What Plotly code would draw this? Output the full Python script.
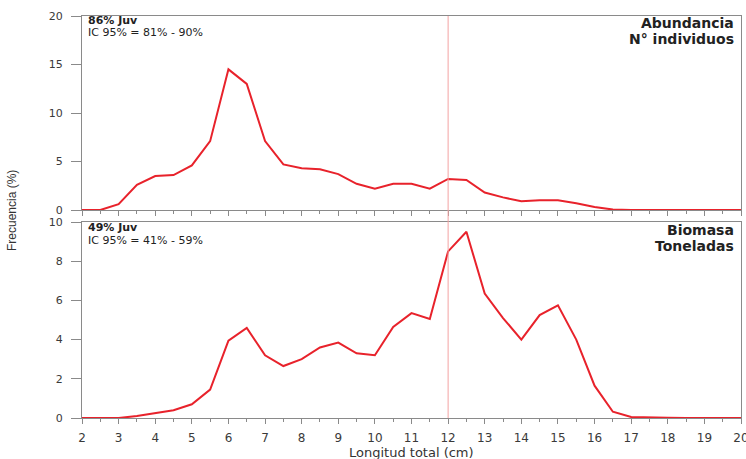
import plotly.graph_objects as go

longitud = [2, 2.5, 3, 3.5, 4, 4.5, 5, 5.5, 6, 6.5, 7, 7.5, 8, 8.5, 9, 9.5, 10, 10.5,
            11, 11.5, 12, 12.5, 13, 13.5, 14, 14.5, 15, 15.5, 16, 16.5, 17, 17.5, 18,
            18.5, 19, 19.5, 20]
abundancia = [0, 0, 0.6, 2.6, 3.5, 3.6, 4.6, 7.1, 14.5, 13.0, 7.1, 4.7, 4.3, 4.2, 3.7,
              2.7, 2.2, 2.7, 2.7, 2.2, 3.2, 3.1, 1.8, 1.3, 0.9, 1.0, 1.0, 0.7, 0.3, 0.05,
              0, 0, 0, 0, 0, 0, 0]
biomasa = [0, 0, 0, 0.1, 0.25, 0.4, 0.7, 1.45, 3.95, 4.6, 3.2, 2.65, 3.0, 3.6, 3.85,
           3.3, 3.2, 4.65, 5.35, 5.05, 8.5, 9.5, 6.35, 5.1, 4.0, 5.25, 5.75, 4.0, 1.65,
           0.32, 0.05, 0.02, 0.01, 0, 0, 0, 0]
x_ticks = list(range(2, 21))
y_ticks_top = [0, 5, 10, 15, 20]
y_ticks_bot = [0, 2, 4, 6, 8, 10]
talla_ref = 12

W, H = 746, 459
FONT = "DejaVu Sans"
RED = "#e8222b"
AX = "#8a8a8a"
TXT = "#3a3a3a"

fig = go.Figure()
fig.add_trace(go.Scatter(x=longitud, y=abundancia, mode="lines",
                         line=dict(color=RED, width=2), xaxis="x", yaxis="y",
                         showlegend=False))
fig.add_trace(go.Scatter(x=longitud, y=biomasa, mode="lines",
                         line=dict(color=RED, width=2), xaxis="x2", yaxis="y2",
                         showlegend=False))

xd = [82 / W, 741 / W]
ytop = [1 - 210 / H, 1 - 16 / H]
ybot = [1 - 418 / H, 1 - 222 / H]

common_x = dict(range=[2, 20], tickvals=x_ticks, showline=True, linecolor=AX,
                linewidth=1, mirror=True, ticks="outside", ticklen=5, tickcolor=AX,
                showgrid=False, zeroline=False, domain=xd, automargin=False,
                ticklabelstandoff=4, ticklabeloverflow="allow",
                minor=dict(dtick=0.5, ticks="outside", ticklen=3, tickcolor=AX,
                           showgrid=False),
                tickfont=dict(family=FONT, size=12, color=TXT))
common_y = dict(showline=True, linecolor=AX, linewidth=1, mirror=True,
                ticks="outside", ticklen=10, tickcolor=AX, showgrid=False,
                zeroline=False, automargin=False, ticklabelstandoff=6,
                tickfont=dict(family=FONT, size=11, color=TXT))

fig.update_layout(
    width=W, height=H, margin=dict(l=0, r=0, t=0, b=0, autoexpand=False),
    paper_bgcolor="white", plot_bgcolor="white",
    xaxis=dict(**common_x, anchor="y", showticklabels=False),
    yaxis=dict(**common_y, range=[0, 20], tickvals=y_ticks_top, domain=ytop, anchor="x"),
    xaxis2=dict(**common_x, anchor="y2", showticklabels=True),
    yaxis2=dict(**common_y, range=[0, 10], tickvals=y_ticks_bot, domain=ybot, anchor="x2"),
)

fig.add_shape(type="line", xref="x", yref="paper", x0=talla_ref, x1=talla_ref,
              y0=ybot[0], y1=ytop[1], line=dict(color="#f3a3a3", width=1))

def ann(text, x, y, size, bold=False, anchor="left", family=FONT, color="#222222", **kw):
    fig.add_annotation(text=f"<b>{text}</b>" if bold else text, x=x / W, y=1 - y / H,
                       xref="paper", yref="paper", showarrow=False,
                       xanchor=anchor, yanchor="middle",
                       font=dict(family=family, size=size, color=color), **kw)

ann("86% Juv", 86, 20.5, 11, bold=True)
ann("IC 95% = 81% - 90%", 86, 33, 11)
ann("Abundancia", 736, 23, 14, bold=True, anchor="right")
ann("N° individuos", 736, 39, 14, bold=True, anchor="right")
ann("49% Juv", 86, 227.5, 11, bold=True)
ann("IC 95% = 41% - 59%", 86, 240, 11)
ann("Biomasa", 736, 230, 14, bold=True, anchor="right")
ann("Toneladas", 736, 246, 14, bold=True, anchor="right")
ann("Longitud total (cm)", 411, 452, 13, anchor="center", color="#333333")
ann("Frecuencia (%)", 12, 211, 12, anchor="center", textangle=-90,
    family="Liberation Sans Narrow, Liberation Sans", color="#333333")

fig.write_html("out.html", config={"displayModeBar": False},
               post_script="document.body.style.margin='0';document.body.style.overflow='hidden';")
